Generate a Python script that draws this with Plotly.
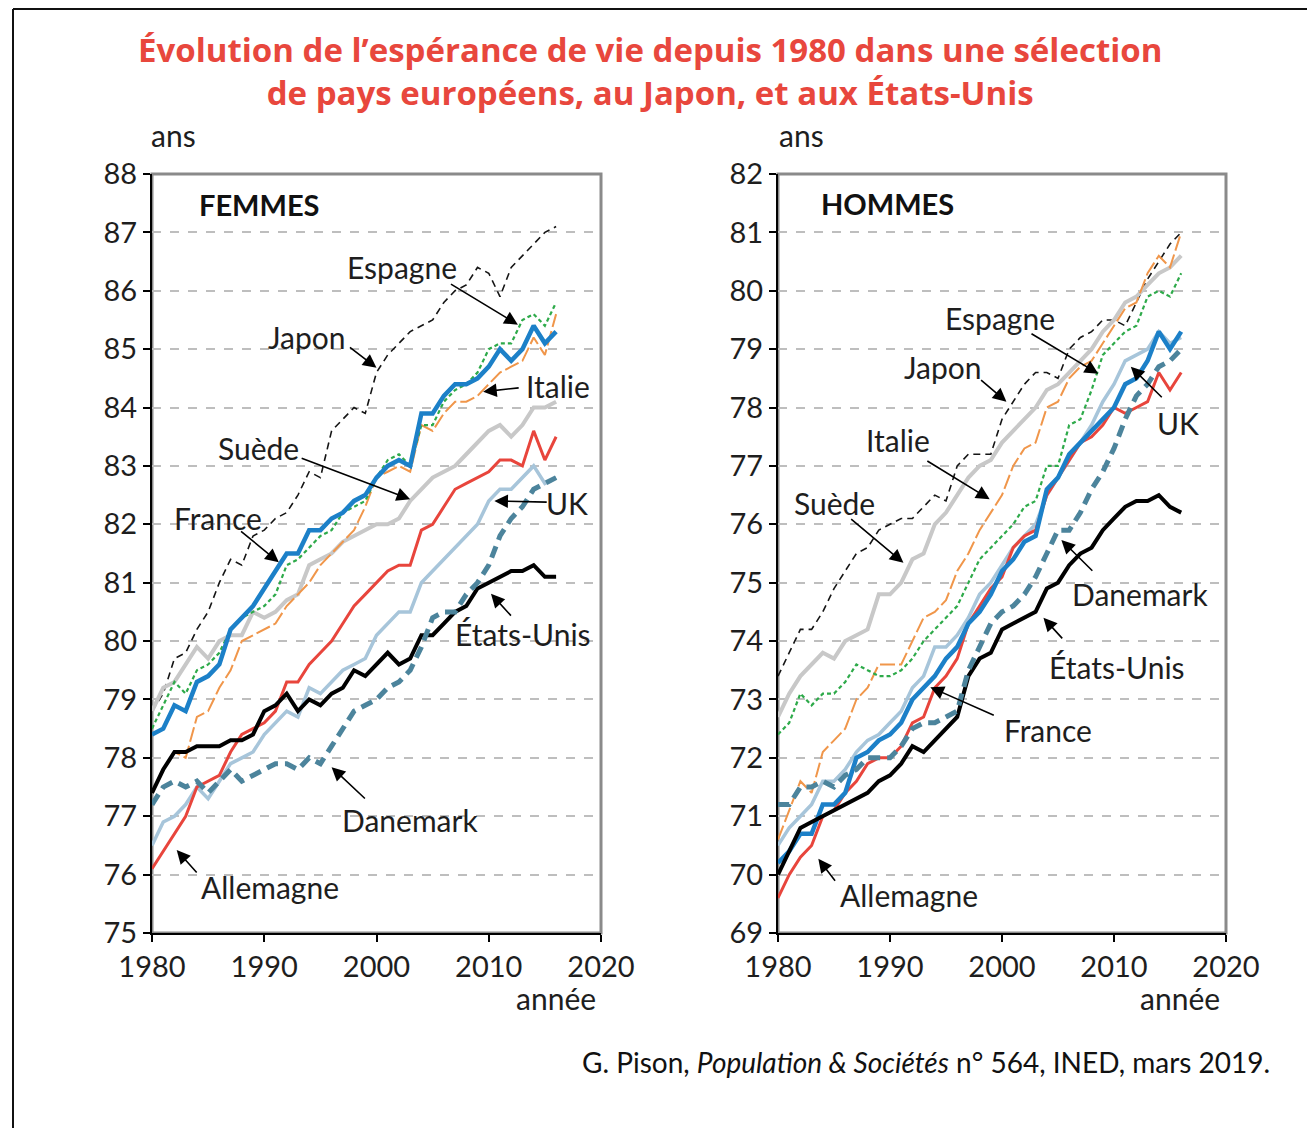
import plotly.graph_objects as go

years = list(range(1980, 2017))

# ---------- FEMMES ----------
f_japon = [78.8, 79.1, 79.7, 79.8, 80.2, 80.5, 81.0, 81.4, 81.3, 81.8, 81.9, 82.1, 82.2, 82.5, 82.9, 82.8, 83.6, 83.8, 84.0, 83.9,
           84.6, 84.9, 85.1, 85.3, 85.4, 85.5, 85.8, 86.0, 86.1, 86.4, 86.3, 85.9, 86.4, 86.6, 86.8, 87.0, 87.1]
f_espagne = [78.5, 78.9, 79.3, 79.1, 79.5, 79.6, 79.8, 80.2, 80.4, 80.5, 80.6, 80.8, 81.3, 81.4, 81.6, 81.8, 81.9, 82.2, 82.3, 82.4,
             82.8, 83.1, 83.2, 83.0, 83.7, 83.7, 84.1, 84.3, 84.4, 84.6, 85.0, 85.1, 85.1, 85.5, 85.6, 85.4, 85.8]
f_italie = [77.4, 77.8, 78.1, 78.0, 78.7, 78.8, 79.2, 79.5, 80.0, 80.1, 80.2, 80.3, 80.6, 80.8, 81.0, 81.3, 81.5, 81.7, 81.9, 82.3,
            82.8, 82.9, 83.0, 82.9, 83.7, 83.6, 83.9, 84.1, 84.1, 84.2, 84.4, 84.6, 84.7, 84.8, 85.2, 84.9, 85.6]
f_suede = [78.8, 79.2, 79.3, 79.6, 79.9, 79.7, 80.0, 80.1, 80.1, 80.5, 80.4, 80.5, 80.7, 80.8, 81.3, 81.4, 81.5, 81.7, 81.8, 81.9,
           82.0, 82.0, 82.1, 82.4, 82.6, 82.8, 82.9, 83.0, 83.2, 83.4, 83.6, 83.7, 83.5, 83.7, 84.0, 84.0, 84.1]
f_france = [78.4, 78.5, 78.9, 78.8, 79.3, 79.4, 79.6, 80.2, 80.4, 80.6, 80.9, 81.2, 81.5, 81.5, 81.9, 81.9, 82.1, 82.2, 82.4, 82.5,
            82.8, 83.0, 83.1, 83.0, 83.9, 83.9, 84.2, 84.4, 84.4, 84.5, 84.7, 85.0, 84.8, 85.0, 85.4, 85.1, 85.3]
f_uk = [76.5, 76.9, 77.0, 77.2, 77.5, 77.3, 77.6, 77.9, 78.0, 78.1, 78.4, 78.6, 78.8, 78.7, 79.2, 79.1, 79.3, 79.5, 79.6, 79.7,
        80.1, 80.3, 80.5, 80.5, 81.0, 81.2, 81.4, 81.6, 81.8, 82.0, 82.4, 82.6, 82.6, 82.8, 83.0, 82.7, 82.8]
f_allemagne = [76.1, 76.4, 76.7, 77.0, 77.5, 77.6, 77.7, 78.1, 78.4, 78.5, 78.6, 78.8, 79.3, 79.3, 79.6, 79.8, 80.0, 80.3, 80.6, 80.8,
               81.0, 81.2, 81.3, 81.3, 81.9, 82.0, 82.3, 82.6, 82.7, 82.8, 82.9, 83.1, 83.1, 83.0, 83.6, 83.1, 83.5]
f_danemark = [77.2, 77.5, 77.6, 77.5, 77.6, 77.4, 77.6, 77.8, 77.6, 77.7, 77.8, 77.9, 77.9, 77.8, 78.0, 77.9, 78.2, 78.5, 78.8, 78.9,
              79.0, 79.2, 79.3, 79.5, 79.9, 80.4, 80.5, 80.5, 80.8, 81.0, 81.3, 81.8, 82.1, 82.3, 82.6, 82.7, 82.8]
f_usa = [77.4, 77.8, 78.1, 78.1, 78.2, 78.2, 78.2, 78.3, 78.3, 78.4, 78.8, 78.9, 79.1, 78.8, 79.0, 78.9, 79.1, 79.2, 79.5, 79.4,
         79.6, 79.8, 79.6, 79.7, 80.1, 80.1, 80.3, 80.5, 80.6, 80.9, 81.0, 81.1, 81.2, 81.2, 81.3, 81.1, 81.1]

# ---------- HOMMES ----------
h_japon = [73.4, 73.8, 74.2, 74.2, 74.5, 74.9, 75.2, 75.5, 75.6, 75.9, 76.0, 76.1, 76.1, 76.3, 76.5, 76.4, 77.0, 77.2, 77.2, 77.2,
           77.8, 78.1, 78.4, 78.6, 78.6, 78.5, 79.0, 79.2, 79.3, 79.5, 79.5, 79.4, 79.8, 80.2, 80.5, 80.8, 81.0]
h_espagne = [72.4, 72.6, 73.1, 72.9, 73.1, 73.1, 73.3, 73.6, 73.5, 73.4, 73.4, 73.5, 73.7, 74.0, 74.2, 74.4, 74.6, 75.0, 75.4, 75.6,
             75.8, 76.0, 76.3, 76.4, 77.0, 77.0, 77.7, 77.8, 78.3, 78.9, 79.1, 79.3, 79.4, 79.9, 80.0, 79.9, 80.3]
h_italie = [70.6, 71.1, 71.6, 71.4, 72.1, 72.3, 72.5, 73.0, 73.2, 73.6, 73.6, 73.6, 74.0, 74.4, 74.5, 74.7, 75.2, 75.5, 75.9, 76.2,
            76.5, 77.0, 77.3, 77.4, 78.0, 78.1, 78.5, 78.7, 78.8, 79.1, 79.4, 79.7, 79.8, 80.3, 80.6, 80.4, 81.0]
h_suede = [72.7, 73.1, 73.4, 73.6, 73.8, 73.7, 74.0, 74.1, 74.2, 74.8, 74.8, 75.0, 75.4, 75.5, 76.0, 76.2, 76.5, 76.8, 77.0, 77.1,
           77.4, 77.6, 77.8, 78.0, 78.3, 78.4, 78.6, 78.8, 79.0, 79.3, 79.5, 79.8, 79.9, 80.1, 80.3, 80.4, 80.6]
h_france = [70.2, 70.4, 70.7, 70.7, 71.2, 71.2, 71.4, 72.0, 72.1, 72.3, 72.4, 72.6, 73.0, 73.2, 73.4, 73.7, 73.9, 74.3, 74.5, 74.8,
            75.2, 75.4, 75.7, 75.8, 76.6, 76.8, 77.2, 77.4, 77.6, 77.8, 78.0, 78.4, 78.5, 78.8, 79.3, 79.0, 79.3]
h_uk = [70.5, 70.8, 71.0, 71.2, 71.6, 71.6, 71.8, 72.1, 72.3, 72.4, 72.6, 72.8, 73.2, 73.4, 73.9, 73.9, 74.1, 74.4, 74.8, 75.0,
        75.3, 75.6, 75.8, 76.0, 76.5, 76.8, 77.1, 77.4, 77.7, 78.1, 78.4, 78.8, 78.9, 79.0, 79.3, 79.1, 79.2]
h_allemagne = [69.6, 70.0, 70.3, 70.5, 71.0, 71.1, 71.4, 71.6, 71.9, 72.0, 72.0, 72.2, 72.6, 72.7, 73.2, 73.4, 73.7, 74.3, 74.6, 74.9,
               75.1, 75.6, 75.8, 75.9, 76.5, 76.8, 77.1, 77.4, 77.5, 77.7, 78.0, 77.9, 78.0, 78.1, 78.6, 78.3, 78.6]
h_danemark = [71.2, 71.2, 71.5, 71.5, 71.6, 71.5, 71.7, 71.8, 72.0, 72.0, 72.0, 72.2, 72.5, 72.6, 72.6, 72.7, 72.8, 73.5, 73.9, 74.3,
              74.5, 74.6, 74.8, 75.1, 75.5, 75.9, 75.9, 76.2, 76.6, 76.9, 77.3, 77.8, 78.2, 78.4, 78.7, 78.8, 79.0]
h_usa = [70.0, 70.4, 70.8, 70.9, 71.0, 71.1, 71.2, 71.3, 71.4, 71.6, 71.7, 71.9, 72.2, 72.1, 72.3, 72.5, 72.7, 73.4, 73.7, 73.8,
         74.2, 74.3, 74.4, 74.5, 74.9, 75.0, 75.3, 75.5, 75.6, 75.9, 76.1, 76.3, 76.4, 76.4, 76.5, 76.3, 76.2]

x_ticks = [1980, 1990, 2000, 2010, 2020]
f_yticks = list(range(75, 89))
h_yticks = list(range(69, 83))

styles = {
    "Japon": dict(color="#151515", width=1.6, dash="7px,5px"),
    "Suède": dict(color="#C8C8C8", width=4),
    "Italie": dict(color="#F0964A", width=2, dash="15px,4px"),
    "Espagne": dict(color="#2EAA4A", width=2.2, dash="4px,3px"),
    "UK": dict(color="#A7C5DA", width=3.5),
    "Allemagne": dict(color="#E8453C", width=3),
    "France": dict(color="#1C80C8", width=4.5),
    "États-Unis": dict(color="#000000", width=4),
    "Danemark": dict(color="#4C849C", width=5, dash="12px,7px"),
}

femmes = {"Japon": f_japon, "Suède": f_suede, "Italie": f_italie, "Espagne": f_espagne, "UK": f_uk,
          "Allemagne": f_allemagne, "France": f_france, "États-Unis": f_usa, "Danemark": f_danemark}
hommes = {"Japon": h_japon, "Suède": h_suede, "Italie": h_italie, "Espagne": h_espagne, "UK": h_uk,
          "Allemagne": h_allemagne, "France": h_france, "États-Unis": h_usa, "Danemark": h_danemark}

fig = go.Figure()
for name, vals in femmes.items():
    fig.add_trace(go.Scatter(x=years, y=vals, mode="lines", name=name, line=styles[name],
                             xaxis="x", yaxis="y", showlegend=False))
for name, vals in hommes.items():
    fig.add_trace(go.Scatter(x=years, y=vals, mode="lines", name=name, line=styles[name],
                             xaxis="x2", yaxis="y2", showlegend=False))

W, H = 1307, 1128
FONT = "Lato, 'Open Sans', sans-serif"
TXT = "#1E1E1E"
LBL = 30
TICK = 29

def px_x(p):
    return p / W

def px_y(p):
    return 1 - p / H

axis_common = dict(showline=True, linecolor="#000000", linewidth=2, ticks="outside", ticklen=7,
                   tickcolor="#000000", tickwidth=1.5, tickfont=dict(family=FONT, size=TICK, color=TXT),
                   zeroline=False, automargin=False)

fig.update_layout(
    width=W, height=H,
    margin=dict(l=0, r=0, t=0, b=0, autoexpand=False),
    paper_bgcolor="white", plot_bgcolor="white",
    xaxis=dict(domain=[px_x(152), px_x(601)], range=[1980, 2020], tickvals=x_ticks, showgrid=False,
               anchor="y", **axis_common),
    yaxis=dict(domain=[px_y(933), px_y(174)], range=[75, 88], tickvals=f_yticks, showgrid=True,
               gridcolor="#BEBEBE", griddash="dash", gridwidth=1.5, anchor="x", **axis_common),
    xaxis2=dict(domain=[px_x(778), px_x(1226)], range=[1980, 2020], tickvals=x_ticks, showgrid=False,
                anchor="y2", **axis_common),
    yaxis2=dict(domain=[px_y(933), px_y(174)], range=[69, 82], tickvals=h_yticks, showgrid=True,
                gridcolor="#BEBEBE", griddash="dash", gridwidth=1.5, anchor="x2", **axis_common),
)

shapes = []
for xr, yr in (("x", "y"), ("x2", "y2")):
    shapes.append(dict(type="rect", xref=f"{xr} domain", yref=f"{yr} domain", x0=0, x1=1, y0=0, y1=1,
                       line=dict(color="#8A8A8A", width=3), layer="below"))
# outer frame (top and left)
shapes.append(dict(type="line", xref="paper", yref="paper", x0=px_x(13), x1=1.0, y0=px_y(9), y1=px_y(9),
                   line=dict(color="#111111", width=2)))
shapes.append(dict(type="line", xref="paper", yref="paper", x0=px_x(13), x1=px_x(13), y0=0, y1=px_y(9),
                   line=dict(color="#111111", width=2)))
fig.update_layout(shapes=shapes)

ann = []
TITLE_COL = "#E8473D"
ann.append(dict(text="<b>Évolution de l’espérance de vie depuis 1980 dans une sélection<br>"
                     "de pays européens, au Japon, et aux États-Unis</b>",
                xref="paper", yref="paper", x=px_x(650), y=px_y(71), showarrow=False,
                xanchor="center", yanchor="middle", align="center",
                font=dict(family="'Open Sans', sans-serif", size=33, color=TITLE_COL)))

for cx in (173, 801):
    ann.append(dict(text="ans", xref="paper", yref="paper", x=px_x(cx), y=px_y(135), showarrow=False,
                    xanchor="center", yanchor="middle", font=dict(family=FONT, size=LBL, color=TXT)))
for cx in (556, 1180):
    ann.append(dict(text="année", xref="paper", yref="paper", x=px_x(cx), y=px_y(998), showarrow=False,
                    xanchor="center", yanchor="middle", font=dict(family=FONT, size=LBL, color=TXT)))

ann.append(dict(text="G. Pison, <i>Population & Sociétés</i> n° 564, INED, mars 2019.", xref="paper", yref="paper",
                x=px_x(1272), y=px_y(1062), showarrow=False, xanchor="right", yanchor="middle",
                font=dict(family=FONT, size=28, color="#111111")))

ann.append(dict(text="<b>FEMMES</b>", xref="x", yref="y", x=1989.5, y=87.47, showarrow=False,
                font=dict(family=FONT, size=29, color="#111111")))
ann.append(dict(text="<b>HOMMES</b>", xref="x2", yref="y2", x=1989.8, y=81.49, showarrow=False,
                font=dict(family=FONT, size=29, color="#111111")))

# (label, text pos, arrow tail, arrow head) in data coordinates
f_labels = [
    ("Espagne", (2002.3, 86.41), (2006.5, 86.13), (2012.6, 85.42)),
    ("Japon", (1993.8, 85.21), (1997.5, 85.05), (2000.0, 84.68)),
    ("Italie", (2016.2, 84.37), (2012.8, 84.34), (2009.5, 84.27)),
    ("Suède", (1989.5, 83.31), (1993.2, 83.14), (2003.0, 82.43)),
    ("France", (1985.9, 82.11), (1987.8, 81.9), (1991.3, 81.35)),
    ("UK", (2017.0, 82.37), (2015.3, 82.38), (2010.5, 82.4)),
    ("États-Unis", (2013.05, 80.12), (2012.1, 80.41), (2010.2, 80.81)),
    ("Danemark", (2003.0, 76.94), (1999.1, 77.28), (1996.0, 77.84)),
    ("Allemagne", (1990.5, 75.79), (1984.1, 76.01), (1982.2, 76.42)),
]
h_labels = [
    ("Espagne", (1999.8, 79.53), (2002.5, 79.28), (2008.6, 78.58)),
    ("Japon", (1994.7, 78.70), (1998.0, 78.49), (2000.4, 78.1)),
    ("Italie", (1990.7, 77.44), (1993.2, 77.1), (1998.9, 76.43)),
    ("Suède", (1985.0, 76.37), (1986.4, 76.11), (1991.2, 75.34)),
    ("UK", (2015.7, 77.74), (2014.4, 78.15), (2011.5, 78.7)),
    ("Danemark", (2012.3, 74.81), (2008.2, 75.18), (2005.3, 75.73)),
    ("États-Unis", (2010.3, 73.56), (2005.5, 74.02), (2003.7, 74.4)),
    ("France", (2004.1, 72.48), (1999.4, 72.72), (1993.6, 73.21)),
    ("Allemagne", (1991.7, 69.65), (1985.2, 69.87), (1983.6, 70.27)),
]

for labels, xr, yr in ((f_labels, "x", "y"), (h_labels, "x2", "y2")):
    for name, (tx, ty), (ax_, ay_), (hx, hy) in labels:
        ann.append(dict(text=name, xref=xr, yref=yr, x=tx, y=ty, showarrow=False,
                        font=dict(family=FONT, size=LBL, color=TXT)))
        ann.append(dict(text="", xref=xr, yref=yr, x=hx, y=hy, ax=ax_, ay=ay_, axref=xr, ayref=yr,
                        showarrow=True, arrowhead=2, arrowsize=1.7, arrowwidth=1.6, arrowcolor="#000000",
                        standoff=0, startstandoff=0))

fig.update_layout(annotations=ann)
fig.write_html("out.html", config={"displayModeBar": False},
               post_script="document.body.style.margin='0px';document.body.style.overflow='hidden';")
